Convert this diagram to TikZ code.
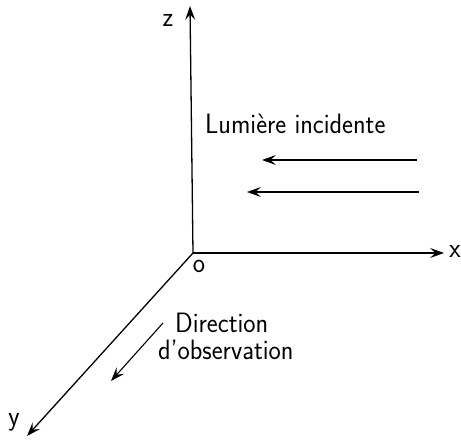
\documentclass[tikz,border=0pt]{standalone}
\usepackage{fontspec}
\usetikzlibrary{arrows.meta}
\begin{document}
\begin{tikzpicture}[x=1pt,y=-1pt,
  axis/.style={line width=1.3pt,-{Stealth[length=14pt,width=10pt,inset=5.5pt]}},
  ray/.style={line width=1.1pt,-{Stealth[length=14pt,width=10pt,inset=5.5pt]}},
  lbl/.style={font=\sffamily\fontsize{28}{30}\selectfont, inner sep=0pt, xscale=0.93}]
\useasboundingbox (0,0) rectangle (461,444);
\coordinate (O) at (193,253);
\coordinate (Z) at (190,6);
\coordinate (X) at (444,253);
\coordinate (Y) at (27,436);
\draw[axis] (O) -- (Z);
\draw[axis] (O) -- (X);
\draw[axis] (O) -- (Y);
\node[lbl] (zl) at (168,20) {z};
\node[lbl] (xl) at (455,251) {x};
\node[lbl] (yl) at (14,422) {y};
\node[lbl] (ol) at (199,266) {o};
\node[lbl,anchor=base west] (lum) at (205,133) {Lumière incidente};
\coordinate (a1s) at (417,160);
\coordinate (a1e) at (262,160);
\coordinate (a2s) at (419,192);
\coordinate (a2e) at (247,192);
\draw[ray] (a1s) -- (a1e);
\draw[ray] (a2s) -- (a2e);
\node[lbl,anchor=base west] (dir) at (175,332) {Direction};
\node[lbl,anchor=base west] (obs) at (158,359) {d'observation};
\coordinate (d1s) at (163,323);
\coordinate (d1e) at (111,381);
\draw[ray] (d1s) -- (d1e);
\end{tikzpicture}
\end{document}
